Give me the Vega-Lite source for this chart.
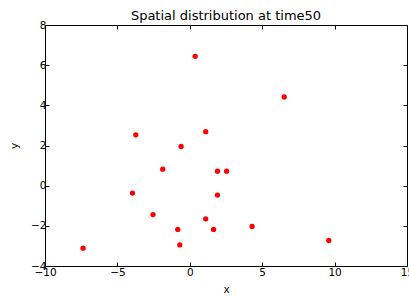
{
  "$schema": "https://vega.github.io/schema/vega-lite/v6.json",
  "width": 362,
  "height": 241,
  "autosize": "none",
  "padding": {"left": 45, "top": 25, "right": 2, "bottom": 32},
  "background": "white",
  "config": {
    "font": "DejaVu Sans",
    "view": {"stroke": "black", "strokeWidth": 1},
    "axis": {
      "grid": false,
      "domain": false,
      "tickColor": "black",
      "tickSize": -4,
      "labelColor": "black",
      "labelFontSize": 10.5,
      "labelFlush": false,
      "labelOverlap": false,
      "titleColor": "black",
      "titleFontSize": 10.5,
      "titleFontWeight": "normal"
    }
  },
  "title": {"text": "Spatial distribution at time50", "fontSize": 13, "fontWeight": "normal", "color": "black", "offset": -3, "font": "DejaVu Sans"},
  "data": {"values": [
    {"x": 0.37, "y": 6.44},
    {"x": 6.52, "y": 4.42},
    {"x": -3.73, "y": 2.53},
    {"x": 1.1, "y": 2.69},
    {"x": -0.6, "y": 1.95},
    {"x": -1.87, "y": 0.82},
    {"x": 1.91, "y": 0.72},
    {"x": 2.54, "y": 0.72},
    {"x": -3.96, "y": -0.37},
    {"x": 1.91, "y": -0.47},
    {"x": -2.54, "y": -1.44},
    {"x": 1.1, "y": -1.65},
    {"x": -0.83, "y": -2.18},
    {"x": 1.64, "y": -2.18},
    {"x": 4.3, "y": -2.03},
    {"x": -0.69, "y": -2.95},
    {"x": -7.37, "y": -3.11},
    {"x": 9.6, "y": -2.73}
  ]},
  "layer": [
    {
      "mark": {"type": "circle", "color": "red", "size": 28, "opacity": 1},
      "encoding": {
        "x": {"field": "x", "type": "quantitative", "scale": {"domain": [-10, 15], "nice": false, "zero": false},
              "axis": {"values": [-10, -5, 0, 5, 10, 15], "title": "x", "labelPadding": 5, "titlePadding": 7}},
        "y": {"field": "y", "type": "quantitative", "scale": {"domain": [-4, 8], "nice": false, "zero": false},
              "axis": {"values": [-4, -2, 0, 2, 4, 6, 8], "title": "y", "labelPadding": 3, "titlePadding": 11}}
      }
    },
    {
      "mark": {"type": "circle", "opacity": 0},
      "encoding": {
        "x": {"field": "x", "type": "quantitative", "axis": {"orient": "top", "values": [-10, -5, 0, 5, 10, 15], "labels": false, "title": null}},
        "y": {"field": "y", "type": "quantitative", "axis": {"orient": "right", "values": [-4, -2, 0, 2, 4, 6, 8], "labels": false, "title": null}}
      }
    }
  ],
  "resolve": {"axis": {"x": "independent", "y": "independent"}}
}
